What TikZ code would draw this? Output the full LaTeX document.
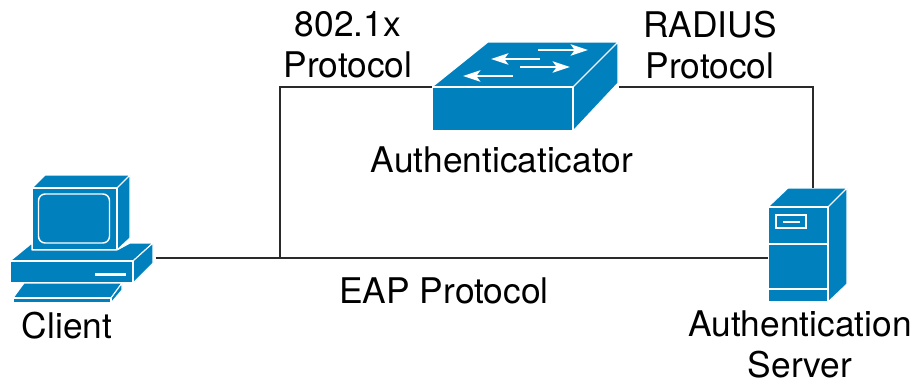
\documentclass[tikz,border=0pt]{standalone}
\usepackage{fontspec}
\setmainfont{TeX Gyre Heros}
\usepackage{xcolor}
\usetikzlibrary{arrows.meta}
\definecolor{iconblue}{HTML}{0080BD}
\definecolor{linegray}{HTML}{2A2A2A}
\begin{document}
\begin{tikzpicture}[
        x=0.75pt,
        y=-0.75pt,
        label/.style={
            align=center,
            inner sep=0pt,
            font=\fontsize{26.5}{30.7}\selectfont
        },
        iconbox/.style={
            rectangle,
            inner sep=0pt,
            anchor=north west
        },
        face/.style={
            fill=iconblue,
            draw=white,
            line width=0.8pt,
            line join=round
        },
        mark line/.style={
            draw=white,
            line width=1.1pt
        },
        line/.style={
            draw=linegray,
            line width=1pt
        },
        ]

        \useasboundingbox (0,0) rectangle (916,383);

        % client
        \node [iconbox,minimum width=108.75pt,minimum height=96pt] (client) at (10,175) {};
        \path [face] (32,188) -- (45,175) -- (130,175) -- (117,188) -- cycle;
        \path [face] (117,188) -- (130,175) -- (130,238) -- (117,250) -- cycle;
        \path [face] (32,188) rectangle (117,250);
        \path [face,line width=1.1pt,rounded corners=5pt] (38.5,194) rectangle (109.5,243);
        \path [face] (10,261) -- (32,243) -- (32,250) -- (117,250) -- (130,243) -- (153,243) -- (133,261) -- cycle;
        \path [face] (133,261) -- (153,243) -- (153,263) -- (133,283) -- cycle;
        \path [face] (10,261) rectangle (133,283);
        \path [fill=white] (95,272.5) rectangle (126,275.5);
        \path [face] (13,298) -- (24,283) -- (122,283) -- (111,298) -- cycle;
        \path [face] (111,298) -- (122,283) -- (122,290) -- (111,303) -- cycle;
        \path [face] (13,298) rectangle (111,303);

        % authenticator
        \node [iconbox,minimum width=139.5pt,minimum height=66.75pt] (switch) at (432,42) {};
        \path [face] (432,87) -- (488,42) -- (618,42) -- (573,87) -- cycle;
        \path [face] (573,87) -- (618,42) -- (618,83) -- (573,131) -- cycle;
        \path [face] (432,87) rectangle (573,131);
        \foreach \xa/\xb/\ya in {538/588/50,540/491/59,520/570/67,513/463/76}
        {
            \draw [mark line,line width=1.5pt,-{Stealth[length=13pt,width=8.5pt,inset=3pt]}] (\xa,\ya) -- (\xb,\ya);
        }

        % server
        \node [iconbox,minimum width=59.25pt,minimum height=85.5pt] (server) at (768,188) {};
        \path [face] (768,207) -- (788,188) -- (847,188) -- (828,207) -- cycle;
        \path [face] (828,207) -- (847,188) -- (847,284) -- (828,302) -- cycle;
        \path [face] (768,207) rectangle (828,302);
        \path [mark line] (768,244) -- (828,244);
        \path [mark line] (768,289) -- (828,289);
        \path [mark line] (776,215) rectangle (806,228);
        \path [mark line] (783,222) -- (800,222);

        \node [label] (label-dot1x) at (348,45) {802.1x \\ Protocol};
        \node [label] (label-radius) at (710,45) {RADIUS \\ Protocol};
        \node [label] (label-switch) at (502,160) {Authenticaticator};
        \node [label] (label-eap) at (444,291) {EAP Protocol};
        \node [label] (label-client) at (67,326) {Client};
        \node [label] (label-server) at (800,344) {Authentication \\ Server};

        \coordinate (branch) at (280,258);
        \coordinate (left-rail) at (280,87);
        \coordinate (right-rail) at (813,87);

        \path [line] (client.east |- branch) -- (server.west |- branch);
        \path [line] (branch) -- (left-rail) -- (switch.west |- left-rail);
        \path [line] (switch.east |- right-rail) -- (right-rail) -- (right-rail |- server.north);
    \end{tikzpicture}
\end{document}
